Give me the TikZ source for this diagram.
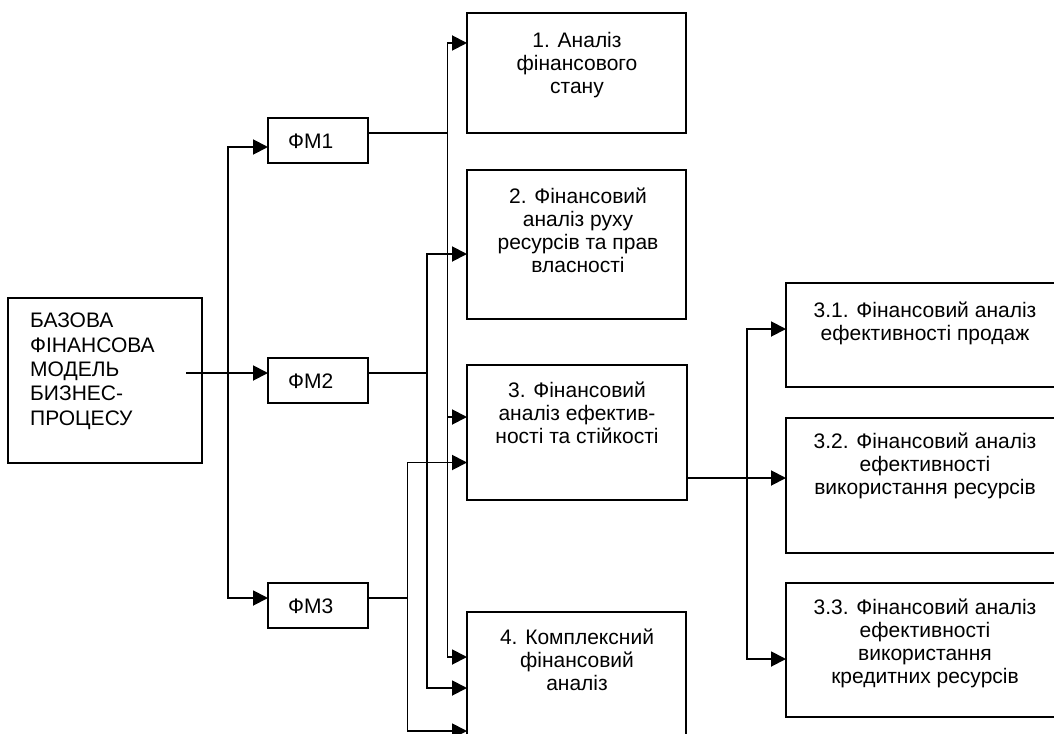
\documentclass[tikz,border=0pt]{standalone}
\usepackage{fontspec}
\setmainfont{Liberation Sans}
\usetikzlibrary{arrows.meta}
\begin{document}
\begin{tikzpicture}[x=1pt,y=-1pt,
  box/.style={draw, line width=2pt, inner sep=0pt, outer sep=0pt},
  wire/.style={line width=1.9pt, line cap=rect},
  arr/.style={wire, -{Triangle[length=15pt,width=15pt]}},
  lbl/.style={inner sep=0pt, font=\fontsize{21}{23}\selectfont, align=center},
]
\useasboundingbox (0,0) rectangle (1054,733);
\clip (0,0) rectangle (1054,733);
\fill[white] (0,0) rectangle (1054,733);

% frames
\node[box, minimum width=194pt, minimum height=165pt] (base) at (105,380.5) {};
\node[box, minimum width=100pt, minimum height=45pt] (fm1) at (318,140.5) {};
\node[box, minimum width=100pt, minimum height=45pt] (fm2) at (318,380.5) {};
\node[box, minimum width=100pt, minimum height=45pt] (fm3) at (318,605.5) {};
\node[box, minimum width=219pt, minimum height=120pt] (b1) at (576.5,73) {};
\node[box, minimum width=219pt, minimum height=149pt] (b2) at (576.5,244.5) {};
\node[box, minimum width=220pt, minimum height=135pt] (b3) at (577,432.5) {};
\node[box, minimum width=219pt, minimum height=133pt] (b4) at (576.5,678.5) {};
\node[box, minimum width=278pt, minimum height=104pt] (c1) at (925,335) {};
\node[box, minimum width=278pt, minimum height=135pt] (c2) at (925,485.5) {};
\node[box, minimum width=278pt, minimum height=134pt] (c3) at (925,650) {};

% texts
\node[lbl, anchor=north west, align=left, font=\fontsize{21}{24.3}\selectfont] (baset) at (30,313)
  {БАЗОВА\\ФІНАНСОВА\\МОДЕЛЬ\\БИЗНЕС-\\ПРОЦЕСУ};
\node[lbl, anchor=base west] (fm1t) at (288,148) {ФМ1};
\node[lbl, anchor=base west] (fm2t) at (288,388) {ФМ2};
\node[lbl, anchor=base west] (fm3t) at (288,613) {ФМ3};
\node[lbl, anchor=north] (b1t) at (577,32) {1. Аналіз\\фінансового\\стану};
\node[lbl, anchor=north] (b2t) at (578,188) {2. Фінансовий\\аналіз руху\\ресурсів та прав\\власності};
\node[lbl, anchor=north] (b3t) at (577,382) {3. Фінансовий\\аналіз ефектив-\\ності та стійкості};
\node[lbl, anchor=north] (b4t) at (577,629) {4. Комплексний\\фінансовий\\аналіз};
\node[lbl, anchor=north] (c1t) at (925,302) {3.1. Фінансовий аналіз\\ефективності продаж};
\node[lbl, anchor=north] (c2t) at (925,433) {3.2. Фінансовий аналіз\\ефективності\\використання ресурсів};
\node[lbl, anchor=north] (c3t) at (925,599) {3.3. Фінансовий аналіз\\ефективності\\використання\\кредитних ресурсів};

% trunk positions
\coordinate (xL) at (228,0);
\coordinate (x1) at (447.5,0);
\coordinate (x2) at (427,0);
\coordinate (x3) at (407.5,0);
\coordinate (xR) at (747,0);

% ports
\coordinate (bstart) at ([xshift=-15pt]base.east);
\coordinate (fm1in) at ([yshift=-6.5pt]fm1.west);
\coordinate (fm2in) at ([yshift=7.5pt]fm2.west);
\coordinate (fm3in) at ([yshift=7.5pt]fm3.west);
\coordinate (fm1out) at ([yshift=7.5pt]fm1.east);
\coordinate (fm2out) at ([yshift=7.5pt]fm2.east);
\coordinate (fm3out) at ([yshift=7.5pt]fm3.east);
\coordinate (b1in) at ([yshift=30pt]b1.west);
\coordinate (b2in) at ([yshift=-9.5pt]b2.west);
\coordinate (b3inA) at ([yshift=15.5pt]b3.west);
\coordinate (b3inB) at ([yshift=-30pt]b3.west);
\coordinate (b4inA) at ([yshift=21.5pt]b4.west);
\coordinate (b4inB) at ([yshift=-9.5pt]b4.west);
\coordinate (b4inC) at ([yshift=-52.5pt]b4.west);
\coordinate (b3out) at ([yshift=-45.5pt]b3.east);
\coordinate (c1in) at ([yshift=6pt]c1.west);
\coordinate (c3in) at ([yshift=-9pt]c3.west);

% base model to the three financial models
\draw[arr] (bstart |- fm2in) -- (fm2in);
\draw[wire] (xL |- fm1in) -- (xL |- fm3in);
\draw[arr] (xL |- fm1in) -- (fm1in);
\draw[arr] (xL |- fm3in) -- (fm3in);

% ФМ1
\draw[wire] (fm1out) -- (x1 |- fm1out);
\draw[wire] (x1 |- b1in) -- (x1 |- b4inA);
\draw[arr] (x1 |- b1in) -- (b1in);
\draw[arr] (x1 |- b3inA) -- (b3inA);
\draw[arr] (x1 |- b4inA) -- (b4inA);

% ФМ2
\draw[wire] (fm2out) -- (x2 |- fm2out);
\draw[wire] (x2 |- b2in) -- (x2 |- b4inB);
\draw[arr] (x2 |- b2in) -- (b2in);
\draw[arr] (x2 |- b4inB) -- (b4inB);

% ФМ3
\draw[wire] (fm3out) -- (x3 |- fm3out);
\draw[wire] (x3 |- b3inB) -- (x3 |- b4inC);
\draw[arr] (x3 |- b3inB) -- (b3inB);
\draw[arr] (x3 |- b4inC) -- (b4inC);

% efficiency analysis breakdown
\draw[arr] (b3out) -- (c2.west |- b3out);
\draw[wire] (xR |- c1in) -- (xR |- c3in);
\draw[arr] (xR |- c1in) -- (c1in);
\draw[arr] (xR |- c3in) -- (c3in);
\end{tikzpicture}
\end{document}
